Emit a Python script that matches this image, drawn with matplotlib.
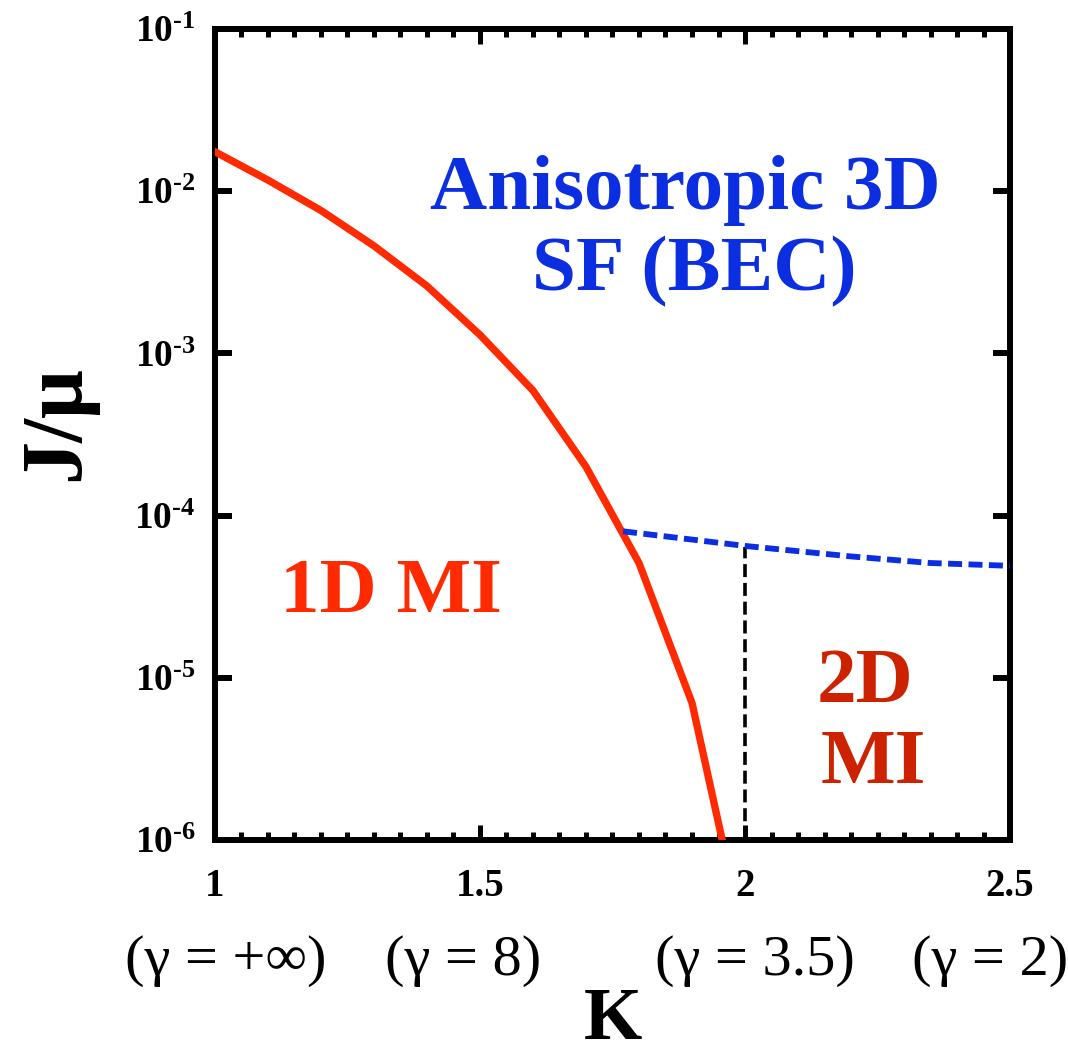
import numpy as np
import matplotlib
matplotlib.use("Agg")
import matplotlib.pyplot as plt
from matplotlib.ticker import MultipleLocator, FixedLocator, FuncFormatter, NullLocator

plt.rcParams['font.family'] = ['Liberation Serif', 'DejaVu Serif']
plt.rcParams['mathtext.fontset'] = 'custom'
plt.rcParams['mathtext.rm'] = 'Liberation Serif:bold'
plt.rcParams['mathtext.bf'] = 'Liberation Serif:bold'
plt.rcParams['mathtext.it'] = 'Liberation Serif:bold'

# 1D MI boundary (solid red)
K_1d = [1.0, 1.1, 1.2, 1.3, 1.4, 1.5, 1.6, 1.7, 1.8, 1.9, 2.0]
J_1d = [1.75e-2, 1.17e-2, 7.6e-3, 4.6e-3, 2.6e-3, 1.3e-3, 5.9e-4, 2.0e-4, 5.1e-5, 7.0e-6, 2.3e-7]

# anisotropic 3D SF boundary (dashed blue)
K_sf = [1.77, 2.0, 2.2, 2.35, 2.5]
J_sf = [8.0e-5, 6.5e-5, 5.6e-5, 5.1e-5, 4.9e-5]

# 2D MI separator (dashed black)
K_2d = [2.0, 2.0]
J_2d = [1e-6, 6.4e-5]

x_ticks = [1, 1.5, 2, 2.5]
x_ticklabels = ['1', '1.5', '2', '2.5']
y_exponents = [-6, -5, -4, -3, -2, -1]
gamma_labels = ['(γ = +∞)', '(γ = 8)', '(γ = 3.5)', '(γ = 2)']
gamma_x = [0.2116, 0.4335, 0.7069, 0.927]

red = '#ff2a00'
dark_red = '#cc2200'
blue = '#0a2ee0'

fig = plt.figure(figsize=(10.68, 10.61), dpi=100)
ax = fig.add_axes([0.2013, 0.2083, 0.7444, 0.7644])

ax.plot(K_1d, J_1d, color=red, lw=5.3, solid_joinstyle='miter', zorder=3)
ax.plot(K_sf, J_sf, color=blue, lw=4.2, dashes=(2.4, 1.1), zorder=4)
ax.plot(K_2d, J_2d, color='black', lw=2.6, dashes=(3.6, 1.6), zorder=2)

ax.set_yscale('log')
ax.set_xlim(1, 2.5)
ax.set_ylim(1e-6, 1e-1)

ax.xaxis.set_major_locator(FixedLocator(x_ticks))
ax.set_xticklabels(x_ticklabels)
ax.xaxis.set_minor_locator(MultipleLocator(0.05))
ax.yaxis.set_major_locator(FixedLocator([10.0 ** e for e in y_exponents]))
ax.yaxis.set_minor_locator(NullLocator())
ax.yaxis.set_major_formatter(FuncFormatter(
    lambda v, p: r'$\mathbf{10^{\text{-}%d}}$' % round(-np.log10(v))))

for s in ax.spines.values():
    s.set_linewidth(4.3)
ax.tick_params(axis='both', which='both', direction='in', top=True, right=True)
ax.tick_params(axis='x', which='major', length=11, width=3.6, pad=20)
ax.tick_params(axis='x', which='minor', length=6, width=3.6)
ax.tick_params(axis='y', which='major', length=12, width=4.3, pad=14)
for lab in ax.get_xticklabels():
    lab.set_fontsize(28)
    lab.set_fontweight('bold')
for lab in ax.get_yticklabels():
    lab.set_fontsize(27)

# K sits right at the bottom edge, as in the original
ax.set_xlabel('K', fontsize=54, fontweight='bold')
ax.xaxis.set_label_coords(0.5, -0.181)
ax.set_ylabel('J/μ', fontsize=62, fontweight='bold')
ax.yaxis.set_label_coords(-0.148, 0.514)

for gx, gl in zip(gamma_x, gamma_labels):
    fig.text(gx, 0.0943, gl, fontsize=42, ha='center', va='center')

big = dict(fontsize=57, fontweight='bold', ha='center', va='baseline')
ax.text(1.887, 7.8e-3, 'Anisotropic 3D', color=blue, **big)
ax.text(1.904, 2.46e-3, 'SF (BEC)', color=blue, **big)
ax.text(1.332, 2.55e-5, '1D MI', color=red, **big)
ax.text(2.226, 7.1e-6, '2D', color=dark_red, **big)
ax.text(2.242, 2.24e-6, 'MI', color=dark_red, **big)

fig.savefig('out.png', dpi=100)
